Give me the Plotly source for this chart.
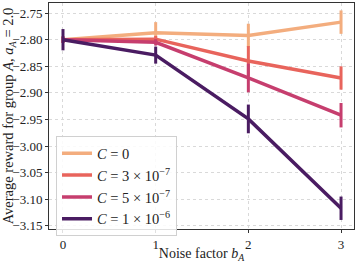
import plotly.graph_objects as go

noise = [0, 1, 2, 3]
labels = ["<i>C</i> = 0",
          "<i>C</i> = 3 × 10<sup>−7</sup>",
          "<i>C</i> = 5 × 10<sup>−7</sup>",
          "<i>C</i> = 1 × 10<sup>−6</sup>"]
means = [
    [-2.800, -2.787, -2.792, -2.767],
    [-2.800, -2.799, -2.840, -2.872],
    [-2.800, -2.805, -2.872, -2.942],
    [-2.800, -2.829, -2.949, -3.117],
]
errs = [
    [0.006, 0.020, 0.022, 0.022],
    [0.006, 0.006, 0.028, 0.022],
    [0.006, 0.006, 0.027, 0.023],
    [0.020, 0.016, 0.027, 0.022],
]
colors = ["#f3ad7e", "#e8645c", "#c63e6e", "#4a1c62"]

fig = go.Figure()
for lab, m, e, c in zip(labels, means, errs, colors):
    fig.add_trace(go.Scatter(
        x=noise, y=m, name=lab, mode="lines",
        line=dict(color=c, width=3.5),
        error_y=dict(type="data", array=e, color=c, thickness=3, width=0),
    ))

font = "Liberation Serif, DejaVu Serif, serif"
fig.update_layout(
    width=359, height=263,
    margin=dict(l=49, r=5, t=3, b=34),
    paper_bgcolor="white", plot_bgcolor="white",
    font=dict(family=font, size=13, color="#222"),
    showlegend=True,
    legend=dict(x=0.023, y=0.41, xanchor="left", yanchor="top",
                bgcolor="rgba(255,255,255,0.85)", bordercolor="#d0d0d0", borderwidth=1,
                font=dict(size=14.5, family=font), tracegroupgap=0, itemwidth=30),
    xaxis=dict(range=[-0.151, 3.14], tickvals=noise, ticktext=[str(v) for v in noise],
               automargin=False,
               showgrid=True, gridcolor="#d9d9d9", griddash="dot", gridwidth=1,
               zeroline=False, showline=True, linecolor="#333", linewidth=1, mirror=True,
               ticks="outside", ticklen=3, tickcolor="#333",
               title=dict(text="Noise factor <i>b<sub>A</sub></i>", standoff=1,
                          font=dict(size=14))),
    yaxis=dict(range=[-3.156, -2.731], tickvals=[-3.15, -3.10, -3.05, -3.00, -2.95, -2.90, -2.85, -2.80, -2.75],
               ticktext=["−3.15", "−3.10", "−3.05", "−3.00", "−2.95", "−2.90", "−2.85", "−2.80", "−2.75"],
               automargin=False,
               showgrid=True, gridcolor="#d9d9d9", griddash="dot", gridwidth=1,
               zeroline=False, showline=True, linecolor="#333", linewidth=1, mirror=True,
               ticks="outside", ticklen=3, tickcolor="#333",
               title=dict(text="Average reward for group <i>A</i>, <i>a<sub>A</sub></i> = 2.0",
                          standoff=2, font=dict(size=14.5))),
)
fig.write_html("out.html", config={"displayModeBar": False},
               post_script="document.body.style.margin='0';document.body.style.padding='0';")
